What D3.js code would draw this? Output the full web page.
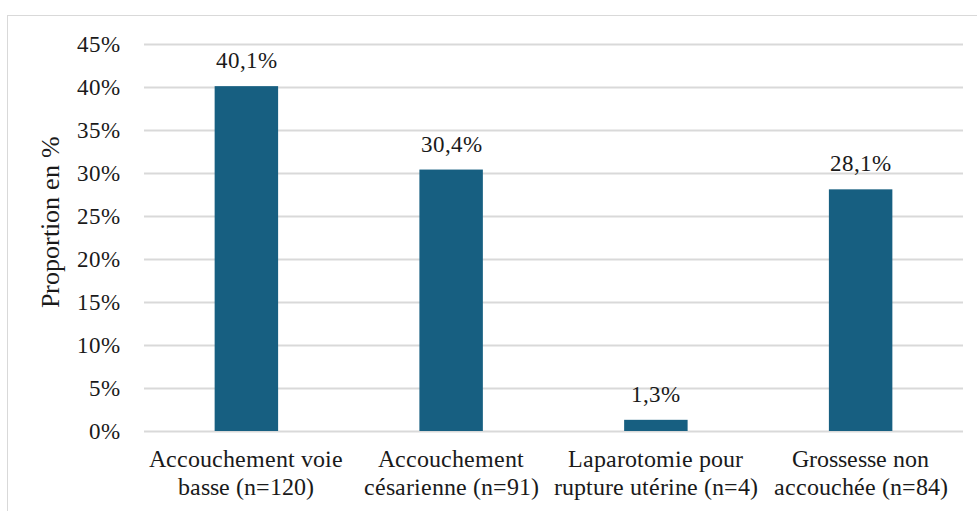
<!DOCTYPE html>
<html>
<head>
<meta charset="utf-8">
<script src="https://cdn.jsdelivr.net/npm/d3@7"></script>
<style>
  @font-face { font-family: "ChartSerif"; src: local("Liberation Serif"), local("LiberationSerif"), local("Liberation Serif Regular"), local("LiberationSerif-Regular"); }
  html, body { margin: 0; background: #fff; }
  svg { display: block; }
  svg text { font-family: "ChartSerif", "Liberation Serif", serif !important; }
</style>
</head>
<body>
<svg id="chart" width="977" height="511"></svg>
<script>
// Issue des grossesses
const categories = [
  ["Accouchement voie", "basse (n=120)"],
  ["Accouchement", "césarienne (n=91)"],
  ["Laparotomie pour", "rupture utérine (n=4)"],
  ["Grossesse non", "accouchée (n=84)"]
];
const values = [40.1, 30.4, 1.3, 28.1];
const valueLabels = ["40,1%", "30,4%", "1,3%", "28,1%"];
const yTicks = [0, 5, 10, 15, 20, 25, 30, 35, 40, 45];
const yTitle = "Proportion en %";

const INK = "#1a1a1a";

const svg = d3.select("#chart");
const W = 977, H = 511;
const m = { left: 144, right: 14, top: 44, bottom: 80 };

function serif(sel, size) {
  sel.attr("font-size", size).attr("fill", INK);
}

// chart frame
svg.append("rect")
  .attr("x", 7.5).attr("y", 15.5)
  .attr("width", W).attr("height", H)
  .attr("fill", "#fff").attr("stroke", "#d9d9d9").attr("stroke-width", 1);

const x = d3.scaleBand()
  .domain(d3.range(categories.length))
  .range([m.left, W - m.right])
  .paddingInner(0.69).paddingOuter(0.345);

const y = d3.scaleLinear().domain([0, 45]).range([H - m.bottom, m.top]);

// gridlines
svg.append("g")
  .selectAll("line")
  .data(yTicks)
  .join("line")
  .attr("x1", m.left).attr("x2", W - m.right)
  .attr("y1", d => Math.round(y(d)) + 0.5).attr("y2", d => Math.round(y(d)) + 0.5)
  .attr("stroke", "#d9d9d9").attr("stroke-width", 2);

// y axis labels
const yAxis = d3.axisLeft(y).tickValues(yTicks).tickFormat(d => d + "%").tickSize(0).tickPadding(24);
const gy = svg.append("g").attr("transform", `translate(${m.left},0)`).call(yAxis)
  .attr("font-family", null).attr("font-size", null);
gy.select(".domain").remove();
gy.selectAll("text").call(serif, 22.5);

// bars
svg.append("g")
  .selectAll("rect")
  .data(values)
  .join("rect")
  .attr("x", (d, i) => x(i))
  .attr("width", x.bandwidth())
  .attr("y", d => y(d))
  .attr("height", d => y(0) - y(d))
  .attr("fill", "#175f81");

// value labels
svg.append("g")
  .selectAll("text")
  .data(values)
  .join("text")
  .attr("x", (d, i) => x(i) + x.bandwidth() / 2)
  .attr("y", d => y(d) - 18)
  .attr("text-anchor", "middle")
  .call(serif, 23)
  .text((d, i) => valueLabels[i]);

// category labels
const cat = svg.append("g")
  .selectAll("text")
  .data(categories)
  .join("text")
  .attr("text-anchor", "middle")
  .attr("x", (d, i) => x(i) + x.bandwidth() / 2)
  .attr("y", y(0) + 36)
  .call(serif, 23.5);
cat.selectAll("tspan")
  .data(d => d)
  .join("tspan")
  .attr("x", function() { return d3.select(this.parentNode).attr("x"); })
  .attr("dy", (d, i) => i === 0 ? 0 : 28)
  .text(d => d);

// y title
svg.append("text")
  .attr("transform", `translate(59, 222) rotate(-90)`)
  .attr("text-anchor", "middle")
  .call(serif, 26)
  .text(yTitle);
</script>
</body>
</html>
